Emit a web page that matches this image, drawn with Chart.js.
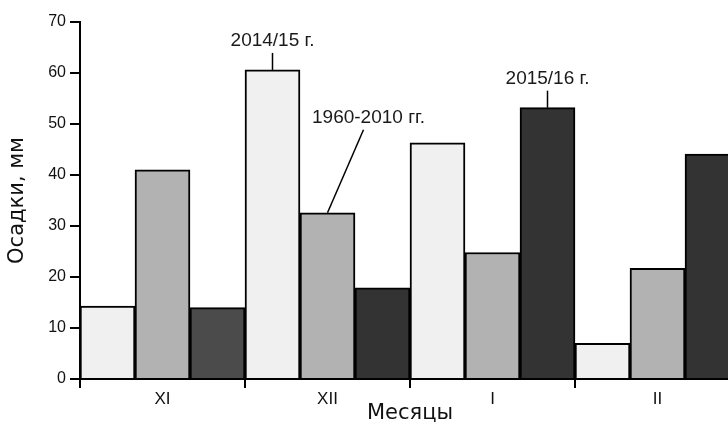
<!DOCTYPE html>
<html>
<head>
<meta charset="utf-8">
<script src="https://cdn.jsdelivr.net/npm/chart.js@4.4.0/dist/chart.umd.min.js"></script>
<style>
  html, body { margin: 0; padding: 0; background: #fff; overflow: hidden; }
  #wrap { width: 728px; height: 426px; overflow: hidden; }
</style>
</head>
<body>
<div id="wrap"><canvas id="rainChart" width="740" height="426"></canvas></div>
<script>
// Месяцы и осадки (мм)
const months = ['XI', 'XII', 'I', 'II'];
const seriesNames = ['2014/15 г.', '1960-2010 гг.', '2015/16 г.'];
const rain201415 = [14.3, 60.6, 46.3, 7.0];
const rainNorm = [41.0, 32.6, 24.8, 21.7];
const rain201516 = [14.0, 17.9, 53.2, 44.1];
const yTicks = [0, 10, 20, 30, 40, 50, 60, 70];

const FONT = 'Arial, "Liberation Sans", sans-serif';
const WIDE_FONT = '"DejaVu Sans", sans-serif';

// подписи серий с выносками
const calloutPlugin = {
    id: 'callouts',
    afterDatasetsDraw(chart) {
        const ctx = chart.ctx;
        ctx.save();
        ctx.strokeStyle = '#000';
        ctx.lineWidth = 1.5;
        ctx.fillStyle = '#1a1a1a';
        ctx.font = '19px ' + FONT;
        ctx.textAlign = 'center';
        ctx.textBaseline = 'alphabetic';

        // 2014/15 над XII
        let bar = chart.getDatasetMeta(0).data[1];
        ctx.beginPath();
        ctx.moveTo(bar.x, bar.y);
        ctx.lineTo(bar.x, bar.y - 17);
        ctx.stroke();
        ctx.fillText(seriesNames[0], bar.x, bar.y - 24);

        // 1960-2010 над XII (наклонная выноска)
        bar = chart.getDatasetMeta(1).data[1];
        ctx.beginPath();
        ctx.moveTo(bar.x, bar.y);
        ctx.lineTo(bar.x + 36, bar.y - 83);
        ctx.stroke();
        ctx.fillText(seriesNames[1], bar.x + 41, bar.y - 90);

        // 2015/16 над I
        bar = chart.getDatasetMeta(2).data[2];
        ctx.beginPath();
        ctx.moveTo(bar.x, bar.y);
        ctx.lineTo(bar.x, bar.y - 17);
        ctx.stroke();
        ctx.fillText(seriesNames[2], bar.x, bar.y - 24);
        ctx.restore();
    }
};

const ctx = document.getElementById('rainChart').getContext('2d');
const rainChart = new Chart(ctx, {
    type: 'bar',
    data: {
        labels: months,
        datasets: [{
            label: seriesNames[0],
            data: rain201415,
            backgroundColor: '#f0f0f0',
            borderColor: '#000',
            borderWidth: 2
        }, {
            label: seriesNames[1],
            data: rainNorm,
            backgroundColor: '#b2b2b2',
            borderColor: '#000',
            borderWidth: 2
        }, {
            label: seriesNames[2],
            data: rain201516,
            backgroundColor: ['#4b4b4b', '#333333', '#333333', '#333333'],
            borderColor: '#000',
            borderWidth: 2
        }]
    },
    options: {
        responsive: false,
        animation: false,
        layout: { padding: { top: 22, right: 0, left: 0, bottom: 0 } },
        categoryPercentage: 1,
        barPercentage: 1,
        plugins: {
            legend: { display: false },
            tooltip: { enabled: false }
        },
        scales: {
            x: {
                grid: {
                    offset: true,
                    drawOnChartArea: false,
                    drawTicks: true,
                    tickLength: 9,
                    color: '#000',
                    lineWidth: 2
                },
                border: { color: '#000', width: 2 },
                ticks: { color: '#111', font: { family: FONT, size: 17 }, padding: 1 },
                title: {
                    display: true,
                    text: 'Месяцы',
                    color: '#111',
                    font: { family: WIDE_FONT, size: 21 },
                    padding: { top: 0, bottom: 0 }
                },
                afterFit(scale) { scale.height = 47; }
            },
            y: {
                min: 0,
                max: 70,
                afterBuildTicks(scale) {
                    scale.ticks = yTicks.map(v => ({ value: v }));
                },
                grid: {
                    drawOnChartArea: false,
                    drawTicks: true,
                    tickLength: 10,
                    color: '#000',
                    lineWidth: 2
                },
                border: { color: '#000', width: 2 },
                ticks: { color: '#111', font: { family: FONT, size: 16 }, padding: 4 },
                title: {
                    display: true,
                    text: 'Осадки, мм',
                    color: '#111',
                    font: { family: WIDE_FONT, size: 21 },
                    padding: { top: 5, bottom: 4 }
                },
                afterFit(scale) { scale.width = 80; }
            }
        }
    },
    plugins: [calloutPlugin]
});
</script>
</body>
</html>
